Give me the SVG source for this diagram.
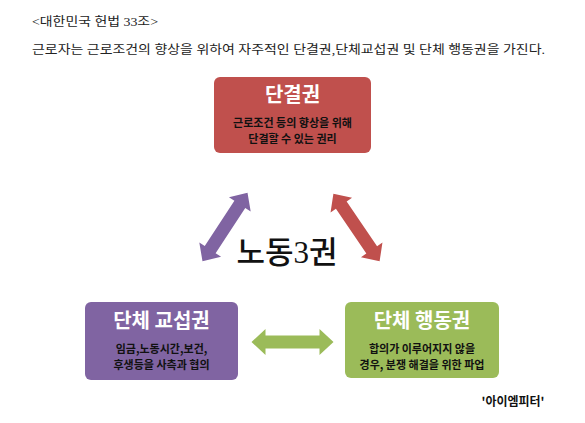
<svg xmlns="http://www.w3.org/2000/svg" xmlns:xlink="http://www.w3.org/1999/xlink" width="585" height="423" viewBox="0 0 585 423">
<style>
.hdr{font-family:"Liberation Serif","Noto Sans CJK KR",serif;font-size:12.5px;fill:#222}
.ttl{font-family:"Noto Sans CJK KR","Noto Sans",sans-serif;font-size:20px;font-weight:bold;fill:#fff;text-anchor:middle}
.sub{font-family:"Noto Sans CJK KR","Noto Sans",sans-serif;font-size:11px;font-weight:bold;fill:#111;text-anchor:middle}
.center{font-family:"Liberation Serif","Noto Sans CJK KR",serif;font-size:31px;font-weight:500;fill:#111;text-anchor:middle}
.credit{font-family:"Noto Sans CJK KR","Noto Sans",sans-serif;font-size:12px;font-weight:bold;fill:#111;text-anchor:middle}
</style>
<defs>
<polygon id="dblarrow" points="-41,0 -27,-13 -27,-6.5 27,-6.5 27,-13 41,0 27,13 27,6.5 -27,6.5 -27,13"/>
</defs>
<rect width="585" height="423" fill="#fff"/>
<text class="hdr" x="32" y="26" textLength="126" lengthAdjust="spacingAndGlyphs">&lt;대한민국 헌법 33조&gt;</text>
<text class="hdr" x="32" y="54" textLength="513" lengthAdjust="spacingAndGlyphs">근로자는 근로조건의 향상을 위하여 자주적인 단결권,단체교섭권 및 단체 행동권을 가진다.</text>

<g id="connectors">
<use xlink:href="#dblarrow" fill="#8064a2" transform="translate(225,227) rotate(-56.7)"/>
<use xlink:href="#dblarrow" fill="#c0504d" transform="translate(356.5,227.5) rotate(55.7)"/>
<use xlink:href="#dblarrow" fill="#9bbb59" transform="translate(292.5,342)"/>
</g>

<g id="node-danGyeol">
<rect x="214" y="77" width="157" height="76" rx="6" fill="#c0504d"/>
<text class="ttl" x="292.5" y="102">단결권</text>
<text class="sub" x="292.5" y="127">근로조건 등의 향상을 위해</text>
<text class="sub" x="292.5" y="143">단결할 수 있는 권리</text>
</g>

<g id="node-gyoseop">
<rect x="85" y="302" width="153" height="78" rx="6" fill="#8064a2"/>
<text class="ttl" x="161.5" y="328">단체 교섭권</text>
<text class="sub" x="161.5" y="353">임금,노동시간,보건,</text>
<text class="sub" x="161.5" y="369">후생등을 사측과 협의</text>
</g>

<g id="node-haengdong">
<rect x="345" y="302" width="154" height="76" rx="6" fill="#9bbb59"/>
<text class="ttl" x="422" y="328">단체 행동권</text>
<text class="sub" x="422" y="353">합의가 이루어지지 않을</text>
<text class="sub" x="422" y="369">경우, 분쟁 해결을 위한 파업</text>
</g>

<g id="node-center">
<text class="center" x="287" y="263">노동3권</text>
</g>

<text class="credit" x="513" y="406">'아이엠피터'</text>
</svg>
